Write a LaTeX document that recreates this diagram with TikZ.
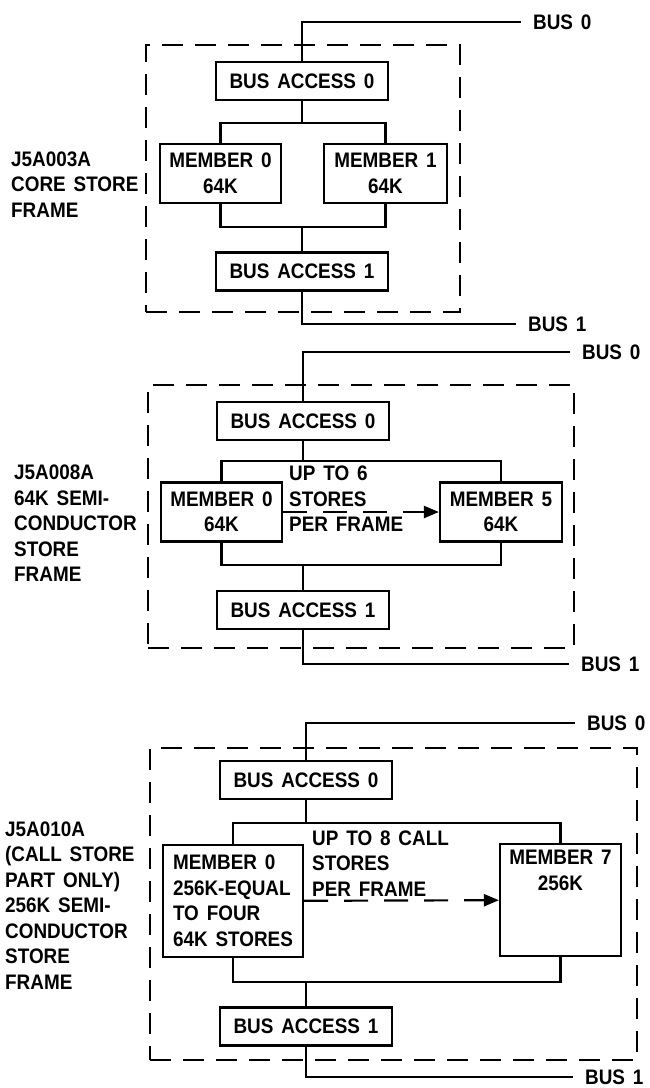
\documentclass[tikz,border=0pt]{standalone}
\usepackage{fontspec}
\setmainfont{Liberation Sans}[FakeStretch=0.9, WordSpace=1.5]
\usetikzlibrary{arrows.meta,positioning}
\tikzset{
  unit/.style={draw, line width=2.2pt, inner sep=0pt, align=center},
  busacc/.style={unit, minimum width=172pt, minimum height=38pt},
  member/.style={unit, minimum width=121pt, minimum height=59pt},
  storeframe/.style={draw, line width=2.2pt, dash pattern=on 21pt off 12pt, inner sep=0pt},
  busline/.style={line width=2.2pt},
  buslabel/.style={anchor=west, inner xsep=12pt, inner ysep=0pt},
  fromto/.style={-{Triangle[length=15pt,width=12pt]}, line width=2.2pt, dash pattern=on 24pt off 16pt},
  side/.style={anchor=west, align=left, inner sep=0pt}
}
\begin{document}
\begin{tikzpicture}[x=1pt, y=-1pt, font=\bfseries\fontsize{21}{25.5}\selectfont]
  \useasboundingbox (0,0) rectangle (650,1088);

  % core store frame
  \node[storeframe, minimum width=314pt, minimum height=267pt] (fr1) at (303,178.5) {};
  \node[busacc] (ba0a) at (302,81) {BUS ACCESS 0};
  \node[member] (m0a) at (220.5,173.5) {MEMBER 0\\64K};
  \node[member, minimum width=123pt] (m1a) at (385.5,173.5) {MEMBER 1\\64K};
  \node[busacc] (ba1a) at (302,271.5) {BUS ACCESS 1};
  \node[buslabel] (b0a) at (521,22) {BUS 0};
  \node[buslabel] (b1a) at (516,324) {BUS 1};
  \node[side] (lab1) at (11,184.5) {J5A003A\\CORE STORE\\FRAME};
  \coordinate (up1) at (302,123);
  \coordinate (dn1) at (302,227);
  \draw[busline] (ba0a.north) |- (b0a.west);
  \draw[busline] (ba0a) -- (up1);
  \draw[busline] (m0a.north) |- (up1) -| (m1a.north);
  \draw[busline] (m0a.south) |- (dn1) -| (m1a.south);
  \draw[busline] (dn1) -- (ba1a);
  \draw[busline] (ba1a.south) |- (b1a.west);

  % 64K semiconductor store frame
  \node[storeframe, minimum width=426pt, minimum height=263pt] (fr2) at (361,516.5) {};
  \node[busacc] (ba0b) at (303,421) {BUS ACCESS 0};
  \node[member] (m0b) at (221.5,512) {MEMBER 0\\64K};
  \node[member, minimum width=122pt] (m5b) at (501,512) {MEMBER 5\\64K};
  \node[busacc] (ba1b) at (303,610) {BUS ACCESS 1};
  \node[buslabel] (b0b) at (570,352) {BUS 0};
  \node[buslabel] (b1b) at (569,664) {BUS 1};
  \node[side] (lab2) at (14,523.5) {J5A008A\\64K SEMI-\\CONDUCTOR\\STORE\\FRAME};
  \node[side] (note2) at (289,499) {UP TO 6\\STORES\\PER FRAME};
  \coordinate (up2) at (303,461);
  \coordinate (dn2) at (303,565);
  \draw[busline] (ba0b.north) |- (b0b.west);
  \draw[busline] (ba0b) -- (up2);
  \draw[busline] (m0b.north) |- (up2) -| (m5b.north);
  \draw[busline] (m0b.south) |- (dn2) -| (m5b.south);
  \draw[busline] (dn2) -- (ba1b);
  \draw[busline] (ba1b.south) |- (b1b.west);
  \draw[fromto] (m0b) -- (m5b);

  % 256K semiconductor store frame
  \node[storeframe, minimum width=487pt, minimum height=312pt] (fr3) at (393.5,904) {};
  \node[busacc] (ba0c) at (306,780) {BUS ACCESS 0};
  \node[member, align=left, minimum width=140pt, minimum height=112pt] (m0c) at (233,901)
    {MEMBER 0\\256K-EQUAL\\TO FOUR\\64K STORES};
  \node[member, minimum height=112pt] (m7c) at (560.5,900) {};
  \node[anchor=north, align=center, inner sep=0pt] (m7txt) at ([yshift=-7pt]m7c.north) {MEMBER 7\\256K};
  \node[busacc] (ba1c) at (306,1026.5) {BUS ACCESS 1};
  \node[buslabel] (b0c) at (575,723) {BUS 0};
  \node[buslabel] (b1c) at (573,1077) {BUS 1};
  \node[side] (lab3) at (5,905.5) {J5A010A\\(CALL STORE\\PART ONLY)\\256K SEMI-\\CONDUCTOR\\STORE\\FRAME};
  \node[side] (note3) at (312,863.5) {UP TO 8 CALL\\STORES\\PER FRAME};
  \coordinate (up3) at (306,823);
  \coordinate (dn3) at (306,982);
  \draw[busline] (ba0c.north) |- (b0c.west);
  \draw[busline] (ba0c) -- (up3);
  \draw[busline] (m0c.north) |- (up3) -| (m7c.north);
  \draw[busline] (m0c.south) |- (dn3) -| (m7c.south);
  \draw[busline] (dn3) -- (ba1c);
  \draw[busline] (ba1c.south) |- (b1c.west);
  \draw[fromto] (m0c) -- (m7c);
\end{tikzpicture}
\end{document}
